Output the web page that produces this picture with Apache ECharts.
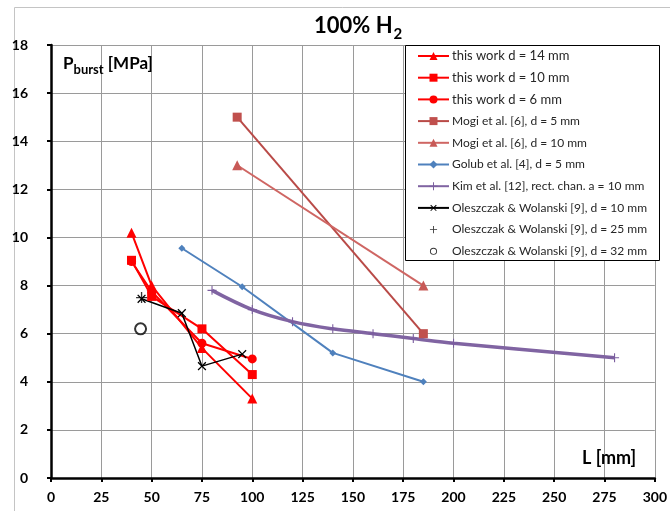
<!DOCTYPE html>
<html>
<head>
<meta charset="utf-8">
<script src="https://cdn.jsdelivr.net/npm/echarts@6/dist/echarts.min.js"></script>
<style>
  html, body { margin: 0; padding: 0; background: #fff; }
  #chart { width: 670px; height: 511px; }
</style>
</head>
<body>
<div id="chart"></div>
<script>
// Burst pressure vs. length, 100% H2
const xTicks = [0, 25, 50, 75, 100, 125, 150, 175, 200, 225, 250, 275, 300];
const yTicks = [0, 2, 4, 6, 8, 10, 12, 14, 16, 18];

const seriesNames = [
  'this work d = 14 mm',
  'this work d = 10 mm',
  'this work d = 6 mm',
  'Mogi et al. [6], d = 5 mm',
  'Mogi et al. [6], d = 10 mm',
  'Golub et al. [4], d = 5 mm',
  'Kim et al. [12], rect. chan. a = 10 mm',
  'Oleszczak & Wolanski [9], d = 10 mm',
  'Oleszczak & Wolanski [9], d = 25 mm',
  'Oleszczak & Wolanski [9], d = 32 mm'
];

// [L mm, P_burst MPa]
const thisWork14 = [[40, 10.2], [50, 8.0], [75, 5.4], [100, 3.3]];
const thisWork10 = [[40, 9.05], [50, 7.55], [75, 6.2], [100, 4.3]];
const thisWork6 = [[40, 9.0], [50, 7.75], [75, 5.6], [100, 4.95]];
const mogi5 = [[92.5, 15.0], [185, 6.0]];
const mogi10 = [[92.5, 13.0], [185, 8.0]];
const golub5 = [[65, 9.55], [95, 7.95], [140, 5.2], [185, 4.0]];
const kim10 = [[80, 7.8], [100, 7.0], [120, 6.5], [140, 6.2], [160, 6.0], [180, 5.8], [200, 5.6], [280, 5.0]];
const oleszczak10 = [[45, 7.45], [65, 6.85], [75, 4.65], [95, 5.15]];
const oleszczak25 = [[45, 7.5]];
const oleszczak32 = [[44.5, 6.2]];

const PLUS = 'path://M4.4,0H5.6V4.4H10V5.6H5.6V10H4.4V5.6H0V4.4H4.4Z';
// smaller legend icons: the leading moves pad the icon's bounding box
const PLUS_SMALL = 'path://M-2,-2M12,12M4.4,0H5.6V4.4H10V5.6H5.6V10H4.4V5.6H0V4.4H4.4Z';
const RING_SMALL = 'path://M-2,-2M12,12M5,0A5,5,0,1,1,4.99,0ZM5,1.3A3.7,3.7,0,1,0,5.01,1.3Z';
const FONT = 'Lato';

function lineSeries(name, data, color, lineColor, width, symbol, size, extra) {
  return Object.assign({
    name: name,
    type: 'line',
    data: data,
    symbol: symbol,
    symbolSize: size,
    lineStyle: { color: lineColor, width: width },
    itemStyle: { color: color, borderWidth: 0 },
    emphasis: { disabled: true },
    animation: false,
    z: 3
  }, extra || {});
}

const legendData = seriesNames.map(function (name, i) {
  if (i === 8) return { name: name, icon: PLUS_SMALL };
  if (i === 9) return { name: name, icon: RING_SMALL, itemStyle: { color: '#000', borderWidth: 0 } };
  return { name: name };
});

const chart = echarts.init(document.getElementById('chart'), null, { renderer: 'canvas' });

chart.setOption({
  backgroundColor: '#ffffff',
  animation: false,
  grid: { left: 51, top: 45, width: 608, height: 433, containLabel: false },
  xAxis: {
    type: 'value',
    min: xTicks[0],
    max: xTicks[xTicks.length - 1],
    interval: 25,
    axisLine: { show: true, onZero: false, lineStyle: { color: '#000', width: 2.5 } },
    axisTick: { show: true, inside: false, length: 4, lineStyle: { color: '#000', width: 2 } },
    axisLabel: { color: '#000', fontFamily: FONT, fontWeight: 'bold', fontSize: 14, margin: 12 },
    splitLine: { show: true, lineStyle: { color: '#9a9a9a', width: 1 } }
  },
  yAxis: {
    type: 'value',
    min: yTicks[0],
    max: yTicks[yTicks.length - 1],
    interval: 2,
    axisLine: { show: true, onZero: false, lineStyle: { color: '#000', width: 2.5 } },
    axisTick: { show: true, inside: false, length: 4, lineStyle: { color: '#000', width: 2 } },
    axisLabel: { color: '#000', fontFamily: FONT, fontWeight: 'bold', fontSize: 14, margin: 23 },
    splitLine: { show: true, lineStyle: { color: '#9a9a9a', width: 1 } }
  },
  legend: {
    orient: 'vertical',
    left: 417,
    top: 49,
    padding: 0,
    itemWidth: 31,
    itemHeight: 10,
    itemGap: 7.7,
    z: 6,
    selectedMode: false,
    formatter: function (name) {
      return name.indexOf('this work') === 0 ? '{w|' + name + '}' : name;
    },
    textStyle: {
      fontFamily: FONT, fontSize: 12, color: '#262626', lineHeight: 14, padding: [0, 0, 0, -2],
      rich: { w: { fontFamily: FONT, fontSize: 13, color: '#262626', lineHeight: 14 } }
    },
    data: legendData
  },
  graphic: [
    {
      type: 'rect', z: -10, silent: true,
      shape: { x: 14.5, y: 7.5, width: 700, height: 600 },
      style: { fill: null, stroke: '#c4c4c4', lineWidth: 1 }
    },
    {
      type: 'rect', z: 4, silent: true,
      shape: { x: 405.5, y: 45.5, width: 254, height: 215 },
      style: { fill: '#fff', stroke: '#000', lineWidth: 1 }
    },
    {
      type: 'text', z: 10, silent: true,
      left: 314, top: 15,
      style: {
        text: '{a|100% H}{b|2}',
        rich: {
          a: { fontFamily: FONT, fontWeight: 'bold', fontSize: 22, fill: '#000', verticalAlign: 'bottom' },
          b: { fontFamily: FONT, fontWeight: 'bold', fontSize: 15, fill: '#000', padding: [0, 0, -5, 1], verticalAlign: 'bottom' }
        }
      }
    },
    {
      type: 'text', z: 10, silent: true,
      left: 63, top: 55,
      style: {
        text: '{a|P}{b|burst}{a| [MPa]}',
        rich: {
          a: { fontFamily: FONT, fontWeight: 'bold', fontSize: 17, fill: '#000', verticalAlign: 'bottom' },
          b: { fontFamily: FONT, fontWeight: 'bold', fontSize: 13, fill: '#000', padding: [0, 0, -4, 0], verticalAlign: 'bottom' }
        }
      }
    },
    {
      type: 'text', z: 10, silent: true,
      left: 582, top: 449,
      style: { text: 'L [mm]', fontFamily: FONT, fontWeight: 'bold', fontSize: 18, fill: '#000' }
    }
  ],
  series: [
    lineSeries(seriesNames[0], thisWork14, '#ff0000', '#ff0000', 2, 'triangle', 10),
    lineSeries(seriesNames[1], thisWork10, '#ff0000', '#ff0000', 2, 'rect', 9),
    lineSeries(seriesNames[2], thisWork6, '#ff0000', '#ff0000', 2, 'circle', 9),
    lineSeries(seriesNames[3], mogi5, '#c0504d', '#b94a47', 2, 'rect', 9),
    lineSeries(seriesNames[4], mogi10, '#c85a57', '#cf6663', 2, 'triangle', 10),
    lineSeries(seriesNames[5], golub5, '#4f81bd', '#4f81bd', 2, 'diamond', 7),
    lineSeries(seriesNames[6], kim10, '#7a5c9e', '#8064a2', 3.5, PLUS, 9, { smooth: 0.35 }),
    lineSeries(seriesNames[7], oleszczak10, '#000', '#000', 1.5, PLUS, 11, { symbolRotate: 45 }),
    {
      name: seriesNames[8], type: 'scatter', data: oleszczak25,
      symbol: PLUS, symbolSize: 11,
      itemStyle: { color: '#000', borderWidth: 0 },
      emphasis: { disabled: true }, z: 3
    },
    {
      name: seriesNames[9], type: 'scatter', data: oleszczak32,
      symbol: 'emptyCircle', symbolSize: 11,
      itemStyle: { color: '#000', borderColor: '#000', borderWidth: 1.5 },
      emphasis: { disabled: true }, z: 3
    }
  ]
});
</script>
</body>
</html>
